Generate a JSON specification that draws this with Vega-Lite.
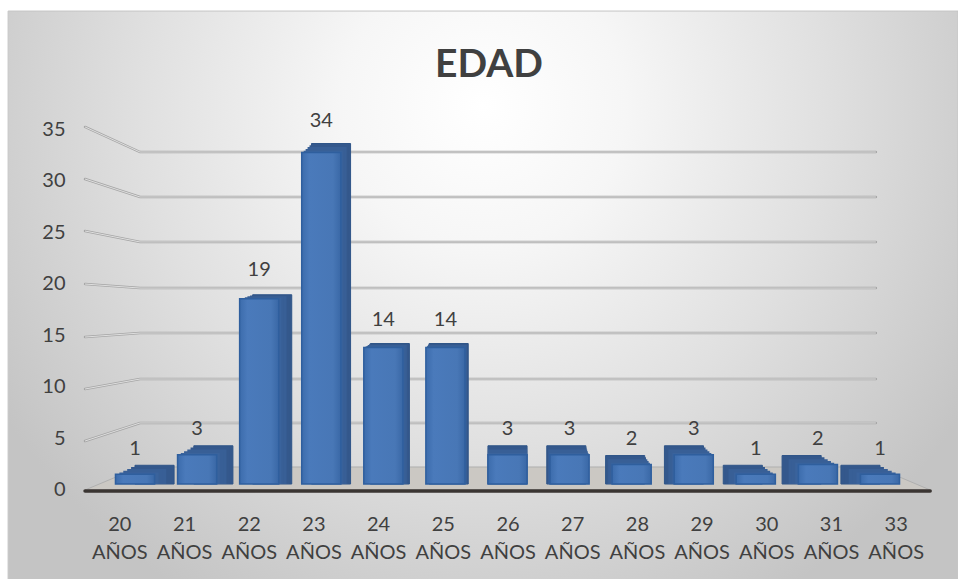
{
"$schema":"https://vega.github.io/schema/vega-lite/v6.json",
"width":958,"height":579,"padding":0,"autosize":{"type":"none"},"background":"white",
"view":{"stroke":null},
"config":{"font":"Lato","view":{"stroke":null}},
"title":{"text":"EDAD","anchor":"middle","dx":10,"offset":-91,"fontSize":39,"font":"Lato","fontWeight":"bold","color":"#404040"},
"datasets":{
"panel":[{"xa":-1.72,"xb":12.97,"ya":46.44,"yb":-45.67}],
"floor":[{"xu":-0.53,"yu":0,"yb":0},{"xu":0.32,"yu":2.23,"yb":0},{"xu":11.7,"yu":2.23,"yb":0},{"xu":12.54,"yu":0,"yb":0}],
"base":[{"xu":-0.53,"xe":12.54,"yu":-0.1}],
"wall":[
{"g":35,"xu":-0.53,"yu":35.2},{"g":35,"xu":0.32,"yu":32.77},{"g":35,"xu":11.7,"yu":32.77},
{"g":30,"xu":-0.53,"yu":30.15},{"g":30,"xu":0.32,"yu":28.41},{"g":30,"xu":11.7,"yu":28.41},
{"g":25,"xu":-0.53,"yu":25.11},{"g":25,"xu":0.32,"yu":24.05},{"g":25,"xu":11.7,"yu":24.05},
{"g":20,"xu":-0.53,"yu":19.97},{"g":20,"xu":0.32,"yu":19.58},{"g":20,"xu":11.7,"yu":19.58},
{"g":15,"xu":-0.53,"yu":14.83},{"g":15,"xu":0.32,"yu":15.22},{"g":15,"xu":11.7,"yu":15.22},
{"g":10,"xu":-0.53,"yu":9.79},{"g":10,"xu":0.32,"yu":10.76},{"g":10,"xu":11.7,"yu":10.76},
{"g":5,"xu":-0.53,"yu":4.75},{"g":5,"xu":0.32,"yu":6.5},{"g":5,"xu":11.7,"yu":6.5}],
"bars":[
{"age":20,"label":"20 AÑOS","v":1},{"age":21,"label":"21 AÑOS","v":3},{"age":22,"label":"22 AÑOS","v":19},
{"age":23,"label":"23 AÑOS","v":34},{"age":24,"label":"24 AÑOS","v":14},{"age":25,"label":"25 AÑOS","v":14},
{"age":26,"label":"26 AÑOS","v":3},{"age":27,"label":"27 AÑOS","v":3},{"age":28,"label":"28 AÑOS","v":2},
{"age":29,"label":"29 AÑOS","v":3},{"age":30,"label":"30 AÑOS","v":1},{"age":31,"label":"31 AÑOS","v":2},
{"age":33,"label":"33 AÑOS","v":1}]
},
"resolve":{"scale":{"x":"independent","y":"independent"},"axis":{"x":"independent","y":"independent"}},
"layer":[
{
"encoding":{
"x":{"field":"xu","type":"quantitative","axis":null,"scale":{"domain":[-1.845,12.97],"nice":false,"zero":false}},
"y":{"field":"yu","type":"quantitative","title":null,"scale":{"domain":[-8.63,47.51],"nice":false,"zero":false},
"axis":{"orient":"left","offset":-70,"values":[0,5,10,15,20,25,30,35],"domain":false,"ticks":false,"grid":false,"labelFontSize":20,"labelColor":"#404040","labelPadding":5,"labelFont":"Lato","zindex":1}}
},
"layer":[
{"data":{"name":"panel"},"mark":{"type":"rect","stroke":"#c6c6c6","strokeWidth":1,
"fill":{"gradient":"radial","x1":0.5,"y1":0.1,"r1":0,"x2":0.5,"y2":0.1,"r2":0.6,"stops":[{"offset":0,"color":"#ffffff"},{"offset":0.25,"color":"#f6f6f6"},{"offset":0.6,"color":"#e0e0e0"},{"offset":1,"color":"#c4c4c4"}]}},
"encoding":{"x":{"field":"xa","type":"quantitative"},"x2":{"field":"xb"},"y":{"field":"ya","type":"quantitative"},"y2":{"field":"yb"}}},
{"data":{"name":"floor"},"mark":{"type":"area","fill":"#cbc8c3","stroke":"#b0b0b0","strokeWidth":1},"encoding":{"y2":{"field":"yb"}}},
{"data":{"name":"wall"},"mark":{"type":"line","stroke":"#a6a6a6","strokeWidth":2.5,"strokeCap":"round"},"encoding":{"detail":{"field":"g"}}},
{"data":{"name":"wall"},"mark":{"type":"line","stroke":"#ececec","strokeWidth":0.8},"encoding":{"detail":{"field":"g"}}},
{"data":{"name":"base"},"mark":{"type":"rule","stroke":"#3a3532","strokeWidth":3.5,"strokeCap":"round"},"encoding":{"x2":{"field":"xe"}}}
]
},
{
"data":{"name":"bars"},
"encoding":{
"x":{"field":"age","type":"ordinal","sort":null,"axis":null,"scale":{"range":[104,911],"paddingInner":0.37,"paddingOuter":0.185}},
"y":{"field":"v","type":"quantitative","axis":null,"scale":{"domain":[-9.74,49.64],"nice":false,"zero":false}}
},
"layer":[
{"mark":{"type":"bar","fill":"#34588c","stroke":"#2f5588","strokeWidth":1,"xOffset":{"expr":"3.25*(26-min(datum.age,32))"},"yOffset":{"expr":"(datum.v==14||datum.v==19)?-4:-9"}},"encoding":{"y2":{"datum":0}}},
{"mark":{"type":"bar","fill":"#34588c","xOffset":{"expr":"0.8*3.25*(26-min(datum.age,32))"},"yOffset":{"expr":"0.8*((datum.v==14||datum.v==19)?-4:-9)"}},"encoding":{"y2":{"datum":0}}},
{"mark":{"type":"bar","fill":"#385f96","xOffset":{"expr":"0.6*3.25*(26-min(datum.age,32))"},"yOffset":{"expr":"0.6*((datum.v==14||datum.v==19)?-4:-9)"}},"encoding":{"y2":{"datum":0}}},
{"mark":{"type":"bar","fill":"#385f96","xOffset":{"expr":"0.4*3.25*(26-min(datum.age,32))"},"yOffset":{"expr":"0.4*((datum.v==14||datum.v==19)?-4:-9)"}},"encoding":{"y2":{"datum":0}}},
{"mark":{"type":"bar","fill":"#3a639c","xOffset":{"expr":"0.2*3.25*(26-min(datum.age,32))"},"yOffset":{"expr":"0.2*((datum.v==14||datum.v==19)?-4:-9)"}},"encoding":{"y2":{"datum":0}}},
{"mark":{"type":"bar","stroke":"#2f5f9e","strokeWidth":1.5,
"fill":{"gradient":"linear","x1":0,"y1":0,"x2":1,"y2":0,"stops":[{"offset":0,"color":"#3c6cac"},{"offset":0.2,"color":"#4a7abb"},{"offset":0.8,"color":"#4877b6"},{"offset":1,"color":"#3a68a6"}]}},"encoding":{"y2":{"datum":0}}},
{"mark":{"type":"text","font":"Lato","fontSize":20,"color":"#404040","baseline":"middle","dy":{"expr":"-(25+datum.v*0.2)"}},"encoding":{"text":{"field":"v","type":"quantitative"}}}
]
},
{
"data":{"name":"bars"},
"mark":{"type":"text","opacity":0,"text":" "},
"encoding":{
"x":{"field":"label","type":"nominal","sort":null,"title":null,"scale":{"range":[87,928],"paddingInner":0,"paddingOuter":0},
"axis":{"orient":"bottom","offset":-65,"domain":false,"ticks":false,"grid":false,"labelAngle":0,"labelFontSize":20,"labelColor":"#404040","labelFont":"Lato","labelPadding":0,"labelLineHeight":28,"labelExpr":"split(datum.label,' ')","labelOverlap":false,"zindex":1}},
"y":{"datum":0,"type":"quantitative","axis":null}
}
}
]
}
